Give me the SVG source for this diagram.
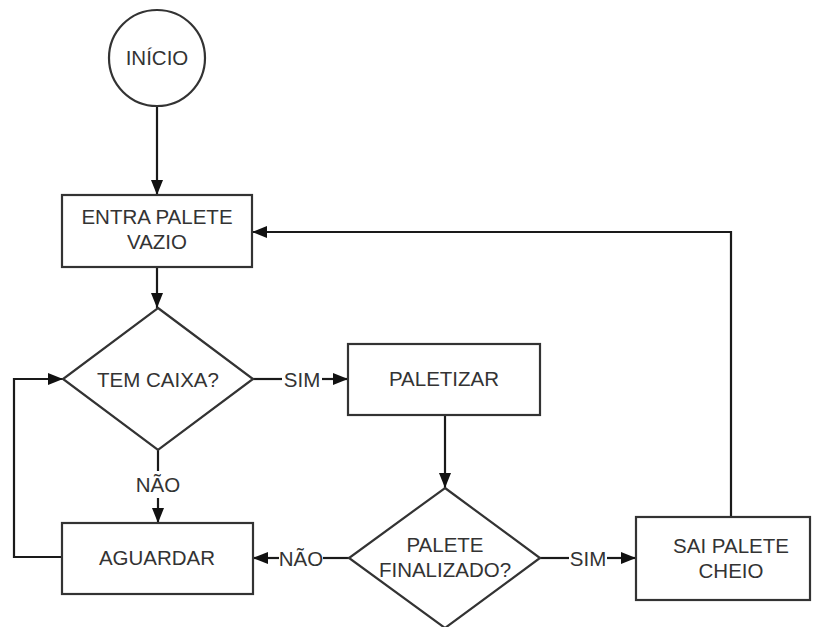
<svg xmlns="http://www.w3.org/2000/svg" width="814" height="627" viewBox="0 0 814 627">
<style>
.shape{fill:#fff;stroke:#333;stroke-width:2.2}
.line{fill:none;stroke:#1a1a1a;stroke-width:2.2}
text{font-family:"Liberation Sans",Arial,sans-serif;font-size:20.5px;fill:#333;text-anchor:middle;dominant-baseline:central}
</style>
<defs>
<marker id="arr" viewBox="0 0 15 12" refX="15" refY="6" markerWidth="15" markerHeight="12" markerUnits="userSpaceOnUse" orient="auto">
<path d="M0,0 L15,6 L0,12 z" fill="#111"/>
</marker>
</defs>
<rect width="814" height="627" fill="#fff"/>
<g id="connectors">
<line class="line" x1="157" y1="106" x2="157" y2="195" marker-end="url(#arr)"/>
<line class="line" x1="157" y1="267" x2="157" y2="308" marker-end="url(#arr)"/>
<path class="line" d="M252,379 H282"/>
<path class="line" d="M322,379 H348" marker-end="url(#arr)"/>
<text x="302" y="379">SIM</text>
<path class="line" d="M158,450 V471"/>
<path class="line" d="M158,498 V523" marker-end="url(#arr)"/>
<text x="158" y="484">NÃO</text>
<path class="line" d="M62,557 H14 V379 H63" marker-end="url(#arr)"/>
<line class="line" x1="445" y1="415" x2="445" y2="488" marker-end="url(#arr)"/>
<path class="line" d="M349,558 H323"/>
<path class="line" d="M279,558 H253" marker-end="url(#arr)"/>
<text x="301" y="558">NÃO</text>
<path class="line" d="M540,558 H569"/>
<path class="line" d="M607,558 H636" marker-end="url(#arr)"/>
<text x="588" y="558">SIM</text>
<path class="line" d="M731,517 V232 H252" marker-end="url(#arr)"/>
</g>
<g id="inicio">
<circle class="shape" cx="157" cy="58" r="48"/>
<text x="157" y="57">INÍCIO</text>
</g>
<g id="entra">
<rect class="shape" x="62" y="195" width="190" height="72"/>
<text x="157" y="216">ENTRA PALETE</text>
<text x="157" y="241">VAZIO</text>
</g>
<g id="tem-caixa">
<polygon class="shape" points="158,308 253,379 158,450 63,379"/>
<text x="158" y="379">TEM CAIXA?</text>
</g>
<g id="paletizar">
<rect class="shape" x="348" y="344" width="192" height="71"/>
<text x="444" y="378">PALETIZAR</text>
</g>
<g id="aguardar">
<rect class="shape" x="62" y="523" width="191" height="71"/>
<text x="157" y="557">AGUARDAR</text>
</g>
<g id="palete-finalizado">
<polygon class="shape" points="445,488 540,558 445,628 349,558"/>
<text x="445" y="544">PALETE</text>
<text x="445" y="569">FINALIZADO?</text>
</g>
<g id="sai-palete">
<rect class="shape" x="636" y="517" width="174" height="83"/>
<text x="731" y="545">SAI PALETE</text>
<text x="731" y="570">CHEIO</text>
</g>
</svg>
